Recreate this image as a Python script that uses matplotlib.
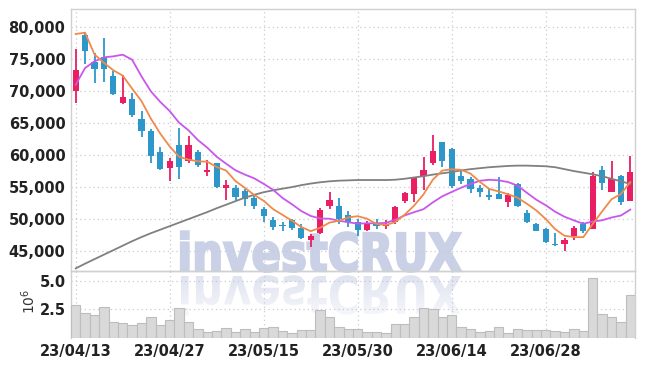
import numpy as np
import pandas as pd
import matplotlib
matplotlib.use('Agg')
import matplotlib.pyplot as plt
from matplotlib.textpath import TextPath
from matplotlib.patches import PathPatch
from matplotlib.font_manager import FontProperties
from matplotlib.transforms import Affine2D

# Datos (precios en KRW, volumen en millones)
dates = ['23/04/13', '23/04/14', '23/04/17', '23/04/18', '23/04/19', '23/04/20', '23/04/21', '23/04/24', '23/04/25', '23/04/26',
         '23/04/27', '23/04/28', '23/05/02', '23/05/03', '23/05/04', '23/05/08', '23/05/09', '23/05/10', '23/05/11', '23/05/12',
         '23/05/15', '23/05/16', '23/05/17', '23/05/18', '23/05/19', '23/05/22', '23/05/23', '23/05/24', '23/05/25', '23/05/26',
         '23/05/30', '23/05/31', '23/06/01', '23/06/02', '23/06/05', '23/06/07', '23/06/08', '23/06/09', '23/06/12', '23/06/13',
         '23/06/14', '23/06/15', '23/06/16', '23/06/19', '23/06/20', '23/06/21', '23/06/22', '23/06/23', '23/06/26', '23/06/27',
         '23/06/28', '23/06/29', '23/06/30', '23/07/03', '23/07/04', '23/07/05', '23/07/06', '23/07/07', '23/07/10', '23/07/11']

opens = [70000, 78800, 74500, 75300, 72400, 68100, 68800, 65700, 63800, 60500,
         58000, 61500, 59000, 60500, 57300, 58700, 54900, 54800, 54400, 53300,
         51600, 49900, 49100, 49800, 48600, 46800, 47900, 52000, 52000, 50700,
         49500, 48300, 49400, 48900, 49500, 52900, 53900, 56800, 58800, 62000,
         61000, 56800, 56200, 54800, 53800, 53900, 52600, 55500, 50900, 49300,
         48400, 46100, 46100, 47300, 49300, 48500, 57700, 54300, 56700, 52900]
highs = [76600, 79000, 75900, 78300, 73100, 72500, 69700, 66900, 64100, 61300,
         59600, 64300, 62900, 60800, 59300, 58800, 56100, 55400, 54700, 53800,
         51900, 50300, 49600, 50000, 49200, 47700, 51700, 54300, 53300, 51200,
         50000, 49700, 50000, 49900, 52000, 54300, 56600, 59700, 63200, 62100,
         61100, 57800, 56600, 55400, 54900, 56500, 54000, 55700, 51400, 49400,
         48600, 47800, 47100, 48900, 49600, 57300, 58300, 59100, 56900, 59900]
lows = [68100, 74200, 71200, 71400, 69400, 67900, 65900, 62800, 58700, 57600,
        56000, 56300, 58700, 58200, 56800, 54900, 53000, 52800, 52100, 51600,
        49600, 48300, 48200, 48300, 46900, 45600, 47700, 51600, 49300, 48800,
        47300, 48200, 48400, 48400, 49300, 52500, 52700, 54600, 58500, 58100,
        54800, 55500, 54000, 53400, 53000, 53100, 51900, 51900, 49400, 48100,
        46200, 45800, 45100, 46800, 47800, 48400, 54600, 54200, 52200, 52800]
closes = [73300, 76300, 73500, 73500, 69600, 69100, 66200, 63700, 59800, 57900,
          59100, 58100, 61600, 58400, 57600, 55000, 55300, 53400, 53100, 52000,
          50500, 48800, 48900, 48600, 47000, 47300, 51400, 53000, 50000, 49600,
          48300, 49400, 48900, 49200, 51900, 54100, 56400, 57700, 60700, 59000,
          55100, 56000, 54700, 54300, 53400, 53200, 53800, 52000, 49600, 48200,
          46500, 45900, 46800, 48600, 48100, 56800, 55700, 56300, 52700, 57400]
volumes = [2.89, 2.21, 2.00, 2.69, 1.41, 1.29, 1.11, 1.29, 1.80, 1.11,
           1.56, 2.60, 1.38, 0.76, 0.52, 0.57, 0.82, 0.52, 0.73, 0.52,
           0.82, 0.91, 0.57, 0.37, 0.67, 0.67, 2.45, 1.85, 0.91, 0.73,
           0.73, 0.49, 0.49, 0.37, 1.17, 1.17, 1.80, 2.60, 2.51, 1.80,
           2.00, 0.91, 0.73, 0.46, 0.57, 0.91, 0.37, 0.73, 0.64, 0.64,
           0.64, 0.55, 0.49, 0.73, 0.57, 5.27, 2.09, 1.80, 1.38, 3.78]

# Primeros valores de las medias (dependen de días anteriores al gráfico)
ma5_head = [78900, 79100, 75700, 74400]
ma10_head = [70980, 73590, 74630, 75250, 75410, 75670, 74890, 72280, 69940]
ma60 = [42300, 43050, 43750, 44450, 45150, 45850, 46550, 47200, 47800, 48350,
        48900, 49450, 50000, 50550, 51100, 51700, 52250, 52800, 53350, 53800,
        54200, 54500, 54750, 55000, 55300, 55550, 55750, 55900, 56000, 56050,
        56100, 56100, 56100, 56100, 56150, 56300, 56500, 56700, 56950, 57150,
        57350, 57600, 57800, 57950, 58100, 58200, 58300, 58350, 58350, 58300,
        58250, 58100, 57800, 57500, 57250, 57000, 56700, 56300, 55900, 55500]

UP = '#e91e63'
DOWN = '#2e97c9'
FONT = 'Liberation Sans Narrow'
W, H = 645, 366


def moving_avg(values, n, head):
    ma = pd.Series(values, dtype=float).rolling(n).mean()
    ma.iloc[:len(head)] = head
    return ma.values


# Marca de agua "investCRUX" con reflejo degradado, en coordenadas de píxel
def watermark(fig):
    bg = fig.add_axes([0, 0, 1, 1], zorder=-1)
    bg.set_xlim(0, W)
    bg.set_ylim(0, H)
    bg.axis('off')
    fp = FontProperties(family='DejaVu Sans', weight='bold')
    tp = TextPath((0, 0), 'investCRUX', size=1, prop=fp)
    ext = tp.get_extents()
    sx = 280 / ext.width
    sy = 38 / 0.729
    base = H - 271
    main_tr = Affine2D().translate(-ext.x0, 0).scale(sx, sy).translate(181, base)
    refl_tr = Affine2D().translate(-ext.x0, 0).scale(sx, -sy).translate(181, base - 5)
    col = '#cad1e6'
    bg.add_patch(PathPatch(main_tr.transform_path(tp), facecolor=col, edgecolor=col,
                           linewidth=1.6))
    refl = PathPatch(refl_tr.transform_path(tp), facecolor='none', edgecolor='none')
    bg.add_patch(refl)
    grad = np.ones((60, 2, 4))
    grad[:, :, :3] = np.array([0xca, 0xd1, 0xe6]) / 255
    grad[:, :, 3] = np.linspace(0.6, 0.12, 60)[:, None]
    im = bg.imshow(grad, extent=(170, 470, base - 50, base - 4), origin='upper',
                   aspect='auto', interpolation='bilinear')
    im.set_clip_path(refl)


def main():
    n = len(closes)
    x = np.arange(n)
    o, h, l, c = map(np.array, (opens, highs, lows, closes))
    colors = np.where(c >= o, UP, DOWN)

    fig = plt.figure(figsize=(W / 100, H / 100), dpi=100)
    watermark(fig)
    ax = fig.add_axes([71 / W, 1 - 271 / H, 564 / W, 262 / H])
    axv = fig.add_axes([71 / W, 1 - 337.5 / H, 564 / W, 66.5 / H], sharex=ax)
    for a in (ax, axv):
        a.set_facecolor('none')
        a.grid(True, linestyle=(0, (1, 2.5)), color='#c8cad6', linewidth=0.9)
        a.set_axisbelow(True)
        a.tick_params(length=0, labelcolor='#222222')
        for s in a.spines.values():
            s.set_color('#d0d0d0')
            s.set_linewidth(1)

    # Velas
    ax.vlines(x, l, h, colors=colors, linewidth=1.3, zorder=3)
    ax.bar(x, np.maximum(np.abs(c - o), 150), bottom=np.minimum(o, c), width=0.66,
           color=colors, zorder=4)

    # Medias móviles
    ax.plot(x, ma60, color='#808080', linewidth=1.3, zorder=5)
    ax.plot(x, moving_avg(closes, 10, ma10_head), color='#c857ec', linewidth=1.3, zorder=5)
    ax.plot(x, moving_avg(closes, 5, ma5_head), color='#f08a4b', linewidth=1.3, zorder=5)

    ax.set_xlim(-0.5, n - 0.5)
    ax.set_ylim(41900, 82800)
    ax.set_yticks(range(45000, 80001, 5000))
    ax.set_yticklabels([f'{v:,}' for v in range(45000, 80001, 5000)],
                       fontfamily=FONT, fontweight='bold', fontsize=10.5)
    ax.tick_params(axis='x', labelbottom=False)
    ax.tick_params(axis='y', pad=4)

    # Volumen
    axv.bar(x, volumes, width=1.0, color='#d9d9d9', edgecolor='#bdbdbd', linewidth=0.8, zorder=3)
    axv.set_ylim(0, 5.92)
    axv.set_yticks([2.5, 5.0])
    axv.set_yticklabels(['2.5', '5.0'], fontfamily=FONT, fontweight='bold', fontsize=10.5)
    ticks = list(range(0, n, 10))
    axv.set_xticks(ticks)
    axv.set_xticklabels([dates[i] for i in ticks], fontfamily=FONT, fontweight='bold', fontsize=10.5)
    axv.tick_params(axis='x', pad=5)
    axv.spines['bottom'].set_visible(False)
    axv.set_ylabel('$10^6$', fontsize=10, color='#333333', rotation=90)
    axv.yaxis.set_label_coords(-0.058, 0.54)

    fig.savefig('out.png', dpi=100, facecolor='white')


if __name__ == '__main__':
    main()
